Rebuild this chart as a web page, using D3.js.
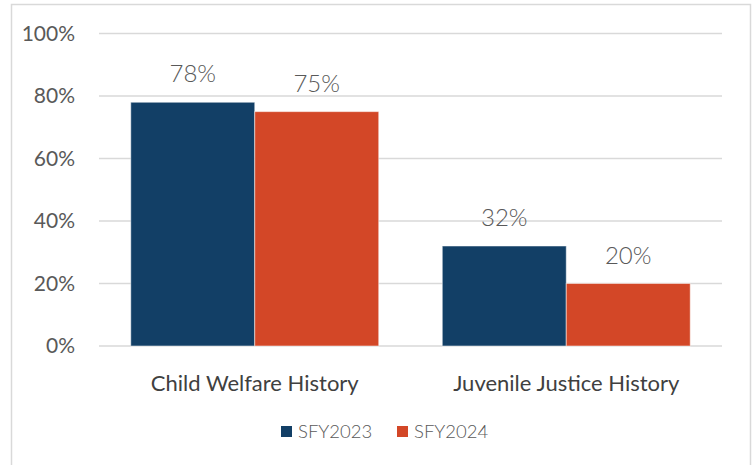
<!DOCTYPE html>
<html>
<head>
<meta charset="utf-8">
<script src="https://cdn.jsdelivr.net/npm/d3@7"></script>
<style>
    body { margin: 0; background: #fff; }
    svg { display: block; }
    .tick-label { font-family: Lato, 'Open Sans', sans-serif; fill: #595959; }
</style>
</head>
<body>
<div id="chart"></div>
<script>
// Chart data
const categories = ['Child Welfare History', 'Juvenile Justice History'];
const seriesNames = ['SFY2023', 'SFY2024'];
const sfy2023 = [78, 32];
const sfy2024 = [75, 20];
const yTicks = [0, 20, 40, 60, 80, 100];
const colors = ['#123f66', '#d34727'];

const W = 755, H = 465;
const margin = { top: 33.5, right: 33, bottom: 119, left: 99 };
const plotW = W - margin.left - margin.right;
const plotH = H - margin.top - margin.bottom;

const svg = d3.select('#chart')
    .append('svg')
    .attr('width', W)
    .attr('height', H);

// Outer frame
svg.append('rect')
    .attr('x', 11.5)
    .attr('y', 4.5)
    .attr('width', 739)
    .attr('height', 470)
    .attr('fill', 'none')
    .attr('stroke', '#d9d9d9')
    .attr('stroke-width', 1.5);

const g = svg.append('g')
    .attr('transform', `translate(${margin.left},${margin.top})`);

// Scales
const x0 = d3.scaleBand()
    .domain(categories)
    .range([0, plotW])
    .paddingInner(0.204)
    .paddingOuter(0.102);

const x1 = d3.scaleBand()
    .domain(seriesNames)
    .range([0, x0.bandwidth()]);

const y = d3.scaleLinear()
    .domain([0, 100])
    .range([plotH, 0]);

// Grid lines
g.append('g')
    .selectAll('line')
    .data(yTicks)
    .enter()
    .append('line')
    .attr('x1', 0)
    .attr('x2', plotW)
    .attr('y1', d => y(d))
    .attr('y2', d => y(d))
    .attr('stroke', '#d9d9d9')
    .attr('stroke-width', 1.5);

// Y axis labels
g.append('g')
    .selectAll('text')
    .data(yTicks)
    .enter()
    .append('text')
    .attr('class', 'tick-label')
    .attr('x', -24)
    .attr('y', d => y(d))
    .attr('dy', '0.35em')
    .attr('text-anchor', 'end')
    .style('font-size', '21px')
    .text(d => d + '%');

// Bars
const rows = categories.map((c, i) => ({
    category: c,
    values: [
        { series: seriesNames[0], value: sfy2023[i], color: colors[0] },
        { series: seriesNames[1], value: sfy2024[i], color: colors[1] }
    ]
}));

const groups = g.selectAll('.group')
    .data(rows)
    .enter()
    .append('g')
    .attr('class', 'group')
    .attr('transform', d => `translate(${x0(d.category)},0)`);

groups.selectAll('rect')
    .data(d => d.values)
    .enter()
    .append('rect')
    .attr('x', d => x1(d.series))
    .attr('y', d => y(d.value))
    .attr('width', x1.bandwidth())
    .attr('height', d => plotH - y(d.value))
    .attr('fill', d => d.color)
    .attr('stroke', '#ffffff')
    .attr('stroke-opacity', 0.5)
    .attr('stroke-width', 1);

// Value labels
groups.selectAll('.value-label')
    .data(d => d.values)
    .enter()
    .append('text')
    .attr('class', 'value-label')
    .attr('x', d => x1(d.series) + x1.bandwidth() / 2)
    .attr('y', d => y(d.value) - 20)
    .attr('text-anchor', 'middle')
    .style('font-family', 'Lato, sans-serif')
    .style('font-weight', '300')
    .style('font-size', '24px')
    .style('fill', '#595959')
    .text(d => d.value + '%');

// Category labels
g.selectAll('.cat-label')
    .data(categories)
    .enter()
    .append('text')
    .attr('class', 'cat-label')
    .attr('x', d => x0(d) + x0.bandwidth() / 2)
    .attr('y', plotH + 45)
    .attr('text-anchor', 'middle')
    .style('font-family', 'Lato, sans-serif')
    .style('font-size', '22px')
    .style('font-weight', '400')
    .style('fill', '#404040')
    .text(d => d);

// Legend
const legend = svg.append('g')
    .attr('transform', 'translate(281, 426)');

const legendItems = legend.selectAll('g')
    .data(seriesNames)
    .enter()
    .append('g')
    .attr('transform', (d, i) => `translate(${i * 116},0)`);

legendItems.append('rect')
    .attr('width', 11)
    .attr('height', 11)
    .attr('fill', (d, i) => colors[i]);

legendItems.append('text')
    .attr('x', 17)
    .attr('y', 6)
    .attr('dy', '0.35em')
    .style('font-family', 'Lato, sans-serif')
    .style('font-weight', '300')
    .style('font-size', '18.5px')
    .style('fill', '#595959')
    .text(d => d);
</script>
</body>
</html>
